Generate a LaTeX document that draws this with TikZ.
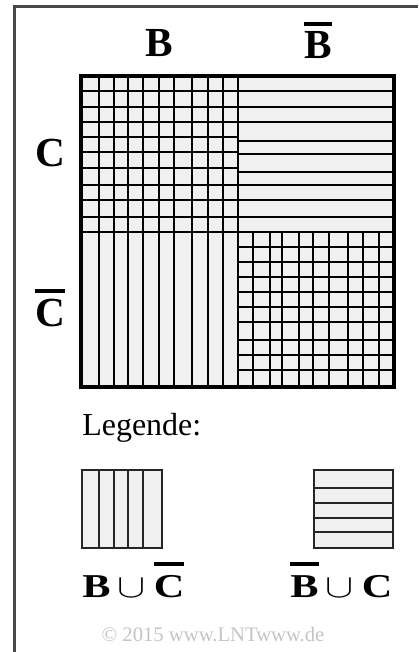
\documentclass[tikz,border=0pt]{standalone}
\usepackage{fontspec}
\setmainfont{Liberation Serif}
\definecolor{cellfill}{HTML}{F0F0F0}
\definecolor{framegray}{HTML}{484848}
\definecolor{copygray}{HTML}{C4C4C4}
\newcommand\myobar[2]{\leavevmode\vbox{\hrule height 2.8pt \kern #1\hbox{#2}}}
\begin{document}
\begin{tikzpicture}[x=0.75pt,y=-0.75pt,
  gridline/.style={line width=1.65pt,black},
  legline/.style={line width=1.3pt,black!85},
  biglabel/.style={font=\fontsize{31}{31}\selectfont\bfseries,inner sep=0pt,anchor=base},
  leglabel/.style={font=\fontsize{25}{25}\selectfont\bfseries,inner sep=0pt,anchor=base west},
  legtext/.style={font=\fontsize{24}{24}\selectfont,inner sep=0pt,anchor=base west},
  copytext/.style={font=\fontsize{15.5}{15.5}\selectfont,text=copygray,inner sep=0pt,anchor=base}]
\useasboundingbox (0,0) rectangle (418,652);
% frame (top and left only)
\draw[line width=1.6pt,framegray] (14.5,652) -- (14.5,6.5) -- (418,6.5);
% main grid
\fill[cellfill] (81,76) rectangle (394,387);
% top-left: grid
\foreach \x in {99,114,128,143,159,174,192,208,223}
  \draw[gridline] (\x,76) -- (\x,232);
\foreach \y in {90.7,107.3,121.7,136.7,151.7,167.7,185,200,216.7}
  \draw[gridline] (81,\y) -- (238,\y);
% top-right: horizontal lines
\foreach \y in {90.7,107.3,121.7,140.7,154,171.7,185,200,216.7}
  \draw[gridline] (238,\y) -- (394,\y);
% bottom-left: vertical lines
\foreach \x in {99,114,128,143,159,174,192,208,223}
  \draw[gridline] (\x,232) -- (\x,387);
% bottom-right: grid
\foreach \x in {253.3,270,281.7,299,313.3,329.3,348.3,363.3,379}
  \draw[gridline] (\x,232) -- (\x,387);
\foreach \y in {246.7,261.7,276.7,291.7,306.7,321.7,340,355,370}
  \draw[gridline] (238,\y) -- (394,\y);
% quadrant borders
\draw[line width=2.1pt] (238,76) -- (238,387) (81,232) -- (394,232);
\draw[line width=2.5pt] (81,76) rectangle (394,387);
% labels
\node[biglabel] (lB) at (159,57) {B};
\node[biglabel] (lBb) at (318,59) {\myobar{4.5pt}{B}};
\node[biglabel] (lC) at (50,167) {C};
\node[biglabel] (lCb) at (50,326) {\myobar{4.5pt}{C}};
% legend
\node[legtext] (leg) at (82,435) {Legende:};
\fill[cellfill] (82,470) rectangle (162,548);
\foreach \x in {99,114,128,143}
  \draw[legline] (\x,470) -- (\x,548);
\draw[legline] (82,470) rectangle (162,548);
\fill[cellfill] (314,470) rectangle (393,548);
\foreach \y in {488,503,518,532}
  \draw[legline] (314,\y) -- (393,\y);
\draw[legline] (314,470) rectangle (393,548);
\node[leglabel] (legA) at (82,597) {\scalebox{1.27}[1]{B\hspace{4pt}$\cup$\hspace{5pt}\myobar{7pt}{C}}};
\node[leglabel] (legB) at (290,597) {\scalebox{1.27}[1]{\myobar{7pt}{B}\hspace{4pt}$\cup$\hspace{5pt}C}};
\node[copytext] (copy) at (213,641) {© 2015 www.LNTwww.de};
\end{tikzpicture}
\end{document}
